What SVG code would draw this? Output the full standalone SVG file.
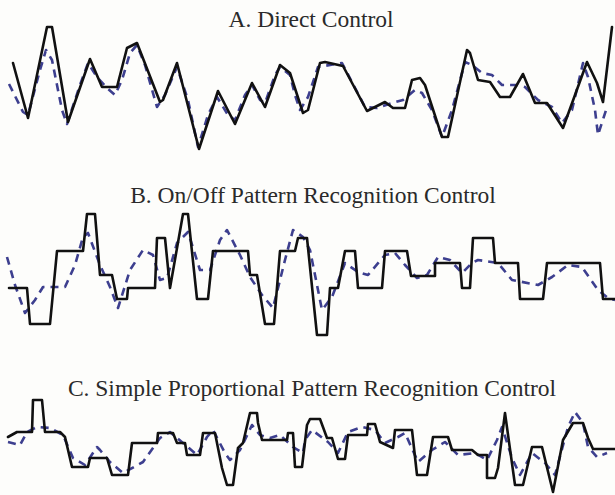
<svg xmlns="http://www.w3.org/2000/svg" width="615" height="495" viewBox="0 0 615 495">
<style>
.t{font-size:23.5px;fill:#2a2a2a;text-anchor:middle}
.k{fill:none;stroke:#111;stroke-width:2.6;stroke-linejoin:round;stroke-linecap:round}
.d{fill:none;stroke:#3d3f8f;stroke-width:2.6;stroke-dasharray:8 6;stroke-linejoin:round}
</style>
<rect width="615" height="495" fill="#fdfdfb"/>
<g id="panelA">
<text class="t" font-family="Liberation Serif, DejaVu Serif, serif" x="311" y="27">A. Direct Control</text>
<path class="d" d="M9,84 L23,112 L28,115 L40,70 L46,50 L52,60 L62,110 L67,124 L80,85 L88,63 L97,77 L107,88 L115,95 L122,80 L130,53 L137,45 L145,65 L157,107 L165,95 L177,67 L188,100 L198,147 L208,115 L217,97 L228,115 L235,120 L245,95 L252,85 L260,100 L265,103 L275,75 L280,67 L290,75 L295,95 L300,110 L308,97 L318,67 L342,63 L365,107 L377,108 L392,103 L403,100 L415,90 L422,93 L432,110 L442,137 L452,110 L465,62 L472,65 L482,73 L492,75 L502,85 L518,85 L525,87 L538,100 L552,107 L562,123 L572,110 L583,63 L588,77 L595,110 L598,135 L607,107"/>
<path class="k" d="M13,63 L28,118 L47,27 L52,27 L68,122 L90,59 L102,87 L117,87 L127,48 L137,43 L160,102 L163,100 L177,63 L199,149 L218,91 L235,124 L252,83 L265,107 L280,65 L290,73 L303,113 L308,110 L320,63 L325,62 L343,66 L367,111 L385,102 L393,108 L405,108 L412,80 L420,78 L425,85 L442,137 L448,137 L467,50 L470,53 L478,80 L490,82 L500,97 L510,97 L523,74 L535,103 L547,103 L563,128 L587,62 L597,83 L603,102 L612,27"/>
</g>
<g id="panelB">
<text class="t" font-family="Liberation Serif, DejaVu Serif, serif" x="313" y="203">B. On/Off Pattern Recognition Control</text>
<path class="d" d="M7,257 L15,285 L25,313 L35,300 L43,287 L65,287 L75,265 L83,237 L88,233 L100,265 L110,287 L118,308 L130,270 L143,250 L153,255 L160,280 L167,278 L177,243 L188,232 L200,270 L210,270 L220,240 L227,230 L240,255 L250,277 L262,295 L273,308 L285,260 L293,230 L303,237 L310,250 L322,310 L332,297 L345,263 L358,272 L368,275 L385,255 L395,253 L405,265 L417,278 L427,275 L438,257 L450,260 L462,273 L472,263 L478,260 L498,263 L512,280 L538,285 L552,277 L568,265 L582,267 L598,290 L608,298 L615,300"/>
<path class="k" d="M9,288 L27,288 L30,324 L50,324 L57,251 L83,251 L87,214 L95,214 L100,275 L112,275 L117,299 L127,299 L128,288 L155,288 L157,238 L165,238 L170,288 L183,214 L188,214 L197,299 L208,299 L213,251 L248,251 L250,275 L257,275 L265,324 L274,324 L280,251 L295,251 L298,238 L307,238 L317,335 L327,335 L330,288 L338,288 L345,251 L355,251 L358,288 L382,288 L385,251 L407,251 L411,276 L435,276 L435,263 L460,263 L462,288 L470,288 L473,238 L493,238 L495,263 L518,263 L520,299 L543,299 L547,263 L600,263 L603,299 L615,299"/>
</g>
<g id="panelC">
<text class="t" font-family="Liberation Serif, DejaVu Serif, serif" x="312" y="396">C. Simple Proportional Pattern Recognition Control</text>
<path class="d" d="M8,442 L20,445 L27,432 L37,427 L50,428 L63,435 L73,458 L85,465 L97,447 L100,450 L110,462 L123,473 L143,462 L160,438 L170,432 L183,443 L197,455 L207,437 L213,430 L225,453 L230,460 L240,450 L252,425 L260,435 L270,438 L280,435 L293,447 L303,453 L305,440 L312,430 L328,442 L338,453 L348,432 L362,427 L375,430 L385,443 L398,437 L405,433 L418,462 L432,450 L445,442 L458,455 L475,453 L487,460 L497,440 L502,427 L512,458 L520,475 L532,453 L545,463 L555,475 L568,427 L575,412 L583,423 L588,447 L597,457 L607,453"/>
<path class="k" d="M8,437 L17,432 L32,432 L33,400 L42,400 L45,432 L60,432 L65,437 L72,467 L88,467 L90,458 L107,458 L112,475 L128,475 L132,443 L157,443 L158,433 L173,433 L177,443 L185,443 L187,455 L200,455 L203,433 L215,433 L222,468 L227,485 L233,485 L238,448 L243,443 L250,413 L257,413 L258,423 L262,440 L287,440 L288,433 L293,433 L295,467 L302,467 L307,425 L310,419 L320,419 L327,438 L332,438 L338,459 L345,459 L348,435 L367,435 L368,424 L375,424 L380,442 L393,448 L395,430 L412,430 L417,475 L427,475 L433,437 L448,437 L452,450 L472,450 L478,455 L487,455 L487,478 L495,478 L498,468 L505,413 L515,485 L523,485 L532,447 L542,447 L553,492 L563,440 L573,423 L583,423 L588,438 L593,449 L615,449"/>
</g>
</svg>
